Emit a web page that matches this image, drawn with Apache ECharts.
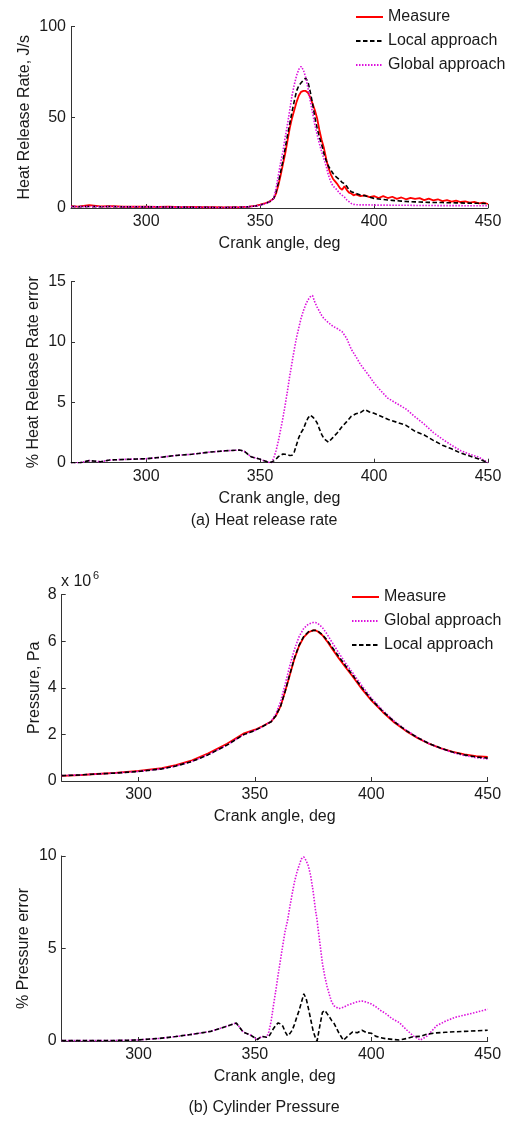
<!DOCTYPE html>
<html>
<head>
<meta charset="utf-8">
<script src="https://cdn.jsdelivr.net/npm/echarts@6/dist/echarts.min.js"></script>
<style>
  html, body { margin: 0; padding: 0; background: #ffffff; }
  #chart { width: 530px; height: 1122px; }
</style>
</head>
<body>
<div id="chart"></div>
<script>
// ---- (a) Heat release rate, J/s ----
const hrrAngle = [267,270,275,280,285,290,295,300,305,310,315,320,325,330,335,340,345,
  348,350,352,354,356,
  357,358,359,360,361,362,363,364,365,366,367,368,369,370,371,372,373,374,375,376,377,378,
  379,380,381,382,383,384,385,386,387,388,389,390,391,392,
  394,396,398,400,402,404,406,408,410,412,414,416,418,420,422,424,426,428,430,432,434,436,438,440,442,444,446,448,450];
const hrrMeasure = [1.0,0.8,1.6,0.9,1.0,0.7,0.8,0.7,0.6,0.7,0.5,0.6,0.4,0.4,0.3,0.4,0.8,
  1.2,1.8,2.5,3.5,5.3,
  8,12.5,18,24,30,37,44,49.5,54,58.5,62,64,64.5,64.5,63.5,61,57.5,54,49.5,43,37.5,33,
  27,22,18.5,16,14.5,13,11,10,12,10,8.5,8,7,7.5,
  6.5,7,6,6.5,5.5,6.5,5.5,6.2,5,5.8,4.8,5.6,5,5.4,4.3,5.2,4.2,4.8,3.8,4.3,3.5,4,3.3,3.6,3,3.4,2.6,3,2.2];
const hrrLocal = [0.8,0.7,0.8,0.7,0.8,0.6,0.7,0.6,0.6,0.5,0.5,0.4,0.4,0.3,0.3,0.4,0.7,
  1.1,1.6,2.3,3.3,5.3,
  9,14,20,26,33,40,46.5,53,59,64.5,67.5,69,70.5,71.5,69.5,64,57.5,50,44,39,35,30,
  26,23,21,19,17.5,16.5,15.5,14,13.5,12,10,9,8.5,8,
  7.2,6.8,6,5.3,5,4.7,4.4,4.2,4,3.8,3.6,3.5,3.4,3.3,3.2,3.1,3,3,3,2.9,2.9,2.8,2.8,2.7,2.7,2.6,2.6,2.5,2.5];
const hrrGlobal = [0.8,0.7,0.8,0.7,0.8,0.6,0.7,0.6,0.6,0.5,0.5,0.4,0.4,0.3,0.3,0.4,0.7,
  1.1,1.6,2.3,3.3,5.3,
  11,18,25,31,39,46,54,62,68,73,76.5,78,76,72,66,59,52.5,46,40.5,35.5,31,27,
  23,18,14.5,12,11,9.5,8,7,6,4.5,3.5,2.5,2,1.8,
  1.7,1.7,1.7,1.6,1.6,1.6,1.6,1.5,1.5,1.5,1.5,1.5,1.4,1.4,1.4,1.4,1.4,1.3,1.3,1.3,1.3,1.3,1.3,1.2,1.2,1.2,1.2,1.2,1.2];

// ---- % heat release rate error ----
const hrrErrAngle = [267,271,275,280,284,290,300,306,313,320,328,335,341,343,346,
  350,354,355,356,357,358,360,361,362,363,364,365,366,367,368,369,370,371,372,373,
  374,375,376,377,378,380,382,384,386,388,390,392,394,396,398,400,403,406,410,414,
  418,422,426,430,434,438,442,446,450];
const hrrErrLocal = [0,0,0.17,0.08,0.22,0.27,0.33,0.44,0.6,0.7,0.88,0.99,1.05,0.95,0.5,
  0.28,0.02,0.05,0.15,0.3,0.5,0.72,0.7,0.65,0.6,0.62,0.9,1.5,2.1,2.5,2.8,3.3,3.7,3.95,3.8,
  3.6,3.3,2.8,2.35,2.0,1.7,2.1,2.5,3.0,3.4,3.85,4.05,4.15,4.4,4.2,4.1,3.85,3.6,3.35,3.1,
  2.6,2.3,1.85,1.45,1.15,0.8,0.55,0.3,0];
const hrrErrGlobal = [0,0,0.17,0.08,0.22,0.27,0.33,0.44,0.6,0.7,0.88,0.99,1.05,0.95,0.5,
  0.28,0.02,0,0.4,1.0,1.8,3.7,4.8,5.95,7.2,8.3,9.4,10.4,11.2,12.0,12.6,13.1,13.5,13.75,13.85,
  13.3,12.9,12.55,12.2,11.95,11.6,11.3,11.1,10.85,10.3,9.4,8.8,8.15,7.65,7.15,6.6,5.95,5.35,4.9,4.45,
  3.8,3.2,2.5,1.95,1.45,1.0,0.7,0.45,0];

// ---- (b) Cylinder pressure, x 10^6 Pa ----
const presAngle = [267,275,280,290,300,310,316,323,330,338,345,350,353,357,359,
  361,363,365,367,369,371,373,375,376,377,379,381,383,386,389,
  392,396,400,405,410,415,420,425,430,435,440,445,450];
const presMeasure = [0.22,0.25,0.29,0.35,0.43,0.55,0.68,0.89,1.19,1.6,2.03,2.2,2.34,2.55,2.8,
  3.2,3.85,4.55,5.25,5.8,6.17,6.38,6.46,6.46,6.41,6.25,5.99,5.7,5.27,4.87,
  4.48,3.94,3.46,2.95,2.5,2.14,1.84,1.59,1.4,1.25,1.14,1.07,1.03];
const presLocal = [0.23,0.26,0.29,0.34,0.41,0.52,0.64,0.84,1.13,1.54,1.98,2.17,2.32,2.54,2.8,
  3.2,3.85,4.58,5.28,5.83,6.2,6.4,6.46,6.46,6.43,6.28,6.04,5.76,5.34,4.93,
  4.54,4.0,3.5,2.98,2.53,2.16,1.85,1.6,1.4,1.24,1.12,1.03,0.98];
const presGlobal = [0.23,0.26,0.29,0.34,0.41,0.52,0.64,0.84,1.13,1.54,1.98,2.17,2.32,2.56,2.88,
  3.4,4.15,4.95,5.65,6.2,6.55,6.73,6.8,6.8,6.76,6.58,6.3,5.97,5.5,5.05,
  4.64,4.08,3.56,3.02,2.56,2.18,1.86,1.6,1.39,1.22,1.09,1.0,0.95];

// ---- % pressure error ----
const presErrAngle = [267,280,290,299,309,316,323,331,338,342,345,348,351,353,355,
  356,357,358,359,360,361,362,363,364,365,366,367,368,369,370,371,372,373,374,375,
  376,376.7,377,378,379,380,381,382,383,384,386,388,390,392,394,396,398,400,402,404,
  406,409,412,415,418,421,424,428,432,436,440,445,450];
const presErrLocal = [0.02,0.02,0.03,0.05,0.14,0.24,0.36,0.52,0.8,0.97,0.48,0.33,0.08,0.25,0.2,
  0.25,0.45,0.68,0.85,0.98,0.92,0.8,0.5,0.28,0.4,0.58,0.9,1.3,1.65,2.1,2.55,2.3,1.75,1.15,0.55,
  0.17,0,0.2,0.9,1.55,1.65,1.48,1.3,1.1,0.95,0.45,0.04,0.28,0.49,0.45,0.58,0.45,0.42,0.25,0.18,
  0.13,0.09,0.05,0.13,0.23,0.25,0.37,0.44,0.47,0.5,0.52,0.55,0.58];
const presErrGlobal = [0.02,0.02,0.03,0.05,0.14,0.24,0.36,0.52,0.8,0.97,0.48,0.33,0.08,0.25,0.2,
  0.5,1.1,1.95,2.75,3.6,4.4,5.2,5.95,6.5,7.25,7.95,8.6,9.1,9.5,9.85,9.95,9.75,9.45,8.9,8.1,
  7.1,6.55,6.2,5.2,4.2,3.5,2.95,2.5,2.1,1.9,1.75,1.82,1.95,2.04,2.12,2.16,2.1,2.0,1.85,1.65,
  1.5,1.2,1.0,0.62,0.28,0.05,0.27,0.82,1.08,1.28,1.4,1.55,1.72];

const xTicks = [300, 350, 400, 450];

// ---- styling ----
const FONT = '"Liberation Sans", Arial, Helvetica, sans-serif';
const TEXT = '#1a1a1a';
const AXIS = '#333333';
const RED = '#ff0000';
const BLACK = '#000000';
const MAGENTA = '#dd11dd';

const pairs = (xs, ys) => xs.map((x, i) => [x, ys[i]]);

const styles = {
  'Measure': { color: RED, width: 1.8, type: 'solid' },
  'Local approach': { color: BLACK, width: 1.6, type: [4.5, 2.5] },
  'Global approach': { color: MAGENTA, width: 1.6, type: [1.5, 1.5] }
};

function line(name, idx, xs, ys, z) {
  const s = styles[name];
  return {
    type: 'line', name, xAxisIndex: idx, yAxisIndex: idx,
    data: pairs(xs, ys), symbol: 'none', showSymbol: false,
    z, animation: false,
    lineStyle: { color: s.color, width: s.width, type: s.type },
    itemStyle: { color: s.color }
  };
}

const grids = [
  { left: 71, top: 26.5, width: 417, height: 181.5 },
  { left: 71, top: 281.7, width: 417, height: 181 },
  { left: 61.7, top: 594.5, width: 426, height: 186.5 },
  { left: 61.7, top: 856, width: 426, height: 185 }
];

function xAxis(i) {
  return {
    type: 'value', gridIndex: i, min: 267, max: 450,
    name: 'Crank angle, deg', nameLocation: 'middle', nameGap: 28,
    nameMoveOverlap: false,
    nameTextStyle: { fontSize: 16, color: TEXT, fontFamily: FONT },
    axisLine: { show: true, onZero: false, lineStyle: { color: AXIS, width: 1 } },
    axisTick: { show: true, inside: true, length: 4, customValues: xTicks, lineStyle: { color: AXIS } },
    axisLabel: { customValues: xTicks, fontSize: 16, color: TEXT, fontFamily: FONT, margin: 6 },
    splitLine: { show: false }
  };
}

function yAxis(i, name, max, interval, gap) {
  return {
    type: 'value', gridIndex: i, min: 0, max, interval,
    name, nameLocation: 'middle', nameGap: gap,
    nameMoveOverlap: false,
    nameTextStyle: { fontSize: 16, color: TEXT, fontFamily: FONT },
    axisLine: { show: true, onZero: false, lineStyle: { color: AXIS, width: 1 } },
    axisTick: { show: true, inside: true, length: 4, lineStyle: { color: AXIS } },
    axisLabel: { fontSize: 16, color: TEXT, fontFamily: FONT, margin: 5 },
    splitLine: { show: false }
  };
}

// Legend entries show only the line sample (no marker)
const legendBase = {
  orient: 'vertical', padding: 0, itemWidth: 27, itemHeight: 16, itemGap: 8,
  selectedMode: false,
  itemStyle: { opacity: 0 },
  textStyle: { fontSize: 16, color: TEXT, fontFamily: FONT }
};

const option = {
  backgroundColor: '#ffffff',
  animation: false,
  grid: grids,
  xAxis: [xAxis(0), xAxis(1), xAxis(2), xAxis(3)],
  yAxis: [
    yAxis(0, 'Heat Release Rate, J/s', 100, 50, 38),
    yAxis(1, '% Heat Release Rate error', 15, 5, 29),
    yAxis(2, 'Pressure, Pa', 8, 2, 19),
    yAxis(3, '% Pressure error', 10, 5, 30.5)
  ],
  legend: [
    Object.assign({}, legendBase, { left: 355, top: 9, data: ['Measure', 'Local approach', 'Global approach'] }),
    Object.assign({}, legendBase, { left: 351, top: 589, data: ['Measure', 'Global approach', 'Local approach'] })
  ],
  series: [
    line('Measure', 0, hrrAngle, hrrMeasure, 2),
    line('Local approach', 0, hrrAngle, hrrLocal, 3),
    line('Global approach', 0, hrrAngle, hrrGlobal, 4),
    line('Local approach', 1, hrrErrAngle, hrrErrLocal, 3),
    line('Global approach', 1, hrrErrAngle, hrrErrGlobal, 2),
    line('Measure', 2, presAngle, presMeasure, 2),
    line('Global approach', 2, presAngle, presGlobal, 3),
    line('Local approach', 2, presAngle, presLocal, 4),
    line('Local approach', 3, presErrAngle, presErrLocal, 3),
    line('Global approach', 3, presErrAngle, presErrGlobal, 2)
  ],
  graphic: [
    { type: 'text', x: 264, y: 521, style: { text: '(a) Heat release rate', fontSize: 16, fontFamily: FONT, fill: TEXT, align: 'center', verticalAlign: 'middle' } },
    { type: 'text', x: 264, y: 1108, style: { text: '(b) Cylinder Pressure', fontSize: 16, fontFamily: FONT, fill: TEXT, align: 'center', verticalAlign: 'middle' } },
    { type: 'text', x: 61, y: 582, style: { text: 'x 10', fontSize: 16, fontFamily: FONT, fill: TEXT, align: 'left', verticalAlign: 'middle' } },
    { type: 'text', x: 93, y: 576, style: { text: '6', fontSize: 11, fontFamily: FONT, fill: TEXT, align: 'left', verticalAlign: 'middle' } }
  ]
};

const chart = echarts.init(document.getElementById('chart'), null, { renderer: 'canvas' });
chart.setOption(option);
</script>
</body>
</html>
